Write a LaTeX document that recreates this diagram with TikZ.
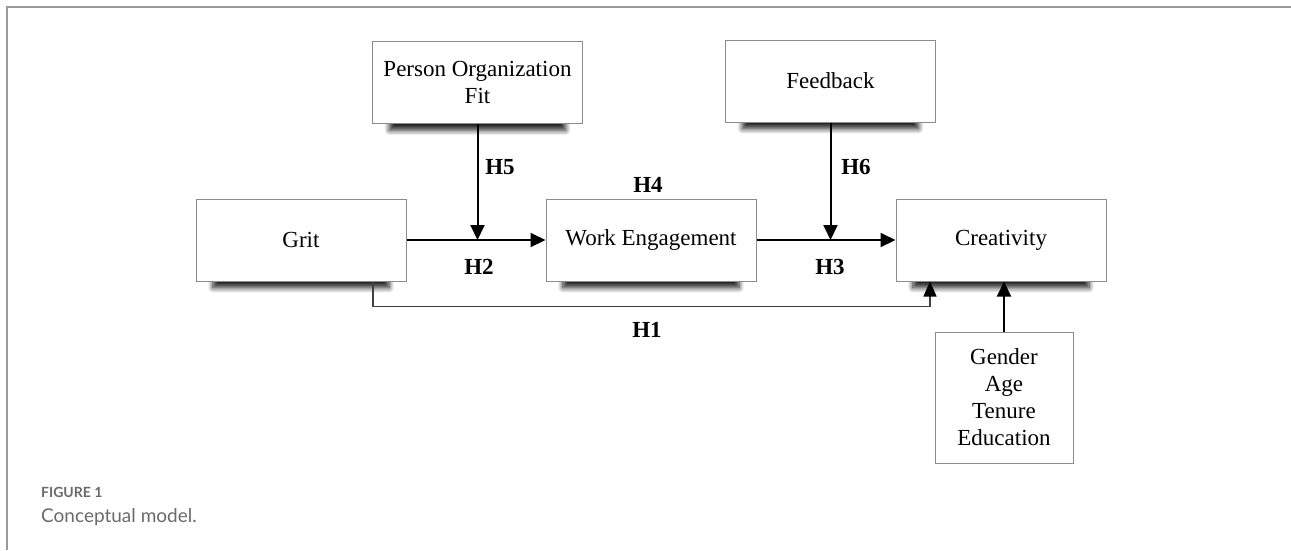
\documentclass[tikz,border=0pt]{standalone}
\usepackage{fontspec}
\setmainfont{Liberation Serif}
\newfontfamily\capfont{Lato}
\usetikzlibrary{arrows.meta,shadows.blur}
\definecolor{boxgray}{HTML}{8C8C8C}
\definecolor{framegray}{HTML}{9A9A9A}
\definecolor{capgray}{HTML}{6A6A6A}
\tikzset{
  vbox/.style={draw=boxgray, line width=1pt, fill=white, minimum width=210pt, minimum height=82pt,
    align=center, inner sep=0pt, font=\fontsize{23}{27}\selectfont},
  shadowed/.style={blur shadow={shadow xshift=0pt, shadow yshift=-16pt, shadow scale=0.84,
    shadow blur steps=10, shadow blur radius=6pt, shadow opacity=85}},
  conn/.style={line width=2pt, draw=black, -{Triangle[length=15pt,width=14pt]}},
  thinconn/.style={line width=1.3pt, draw=black!75, -{Triangle[length=15pt,width=13pt,color=black,fill=black]}},
  hlab/.style={font=\fontsize{23}{27}\selectfont\bfseries, inner sep=0pt},
}
\begin{document}
\begin{tikzpicture}[x=1pt,y=-1pt]
\useasboundingbox (0,0) rectangle (1291,550);
% frame
\draw[framegray, line width=1.5pt] (7,550) -- (7,7) -- (1291,7);
% boxes
\node[vbox, shadowed] (pof) at (477.5,82.5) {Person Organization\\Fit};
\node[vbox, shadowed] (fb) at (830.5,81) {Feedback};
\node[vbox, shadowed] (grit) at (301,240) {Grit};
\node[vbox, shadowed] (we) at (651,240) {Work Engagement};
\node[vbox, shadowed] (cr) at (1001,240) {Creativity};
\node[vbox, minimum width=138pt, minimum height=131pt, text width=138pt] (ctl) at (1004,397.5) {Gender\\Age\\Tenure\\Education};
% junctions
\coordinate (j1) at (477.5,240);
\coordinate (j2) at (830.5,240);
% connectors
\draw[conn] (grit.east) -- (we.west);
\draw[conn] (we.east) -- (cr.west);
\draw[conn] (pof.south) -- (j1);
\draw[conn] (fb.south) -- (j2);
\draw[thinconn] ([xshift=72pt]grit.south) -- ++(0,25) -| ([xshift=-71pt]cr.south);
\draw[conn] (ctl.north) -- (ctl.north |- cr.south);
% labels
\node[hlab] (h5) at (500,167) {H5};
\node[hlab] (h6) at (856,167) {H6};
\node[hlab] (h4) at (648,185) {H4};
\node[hlab] (h2) at (479,267) {H2};
\node[hlab] (h3) at (830,267) {H3};
\node[hlab] (h1) at (647,330) {H1};
% caption
\node[anchor=base west, inner sep=0pt, text=capgray, font=\capfont\bfseries\fontsize{14}{16}\selectfont] (fig) at (41,497) {FIGURE 1};
\node[anchor=base west, inner sep=0pt, text=capgray, font=\capfont\fontsize{19}{22}\selectfont] (cap) at (41,522) {Conceptual model.};
\end{tikzpicture}
\end{document}
